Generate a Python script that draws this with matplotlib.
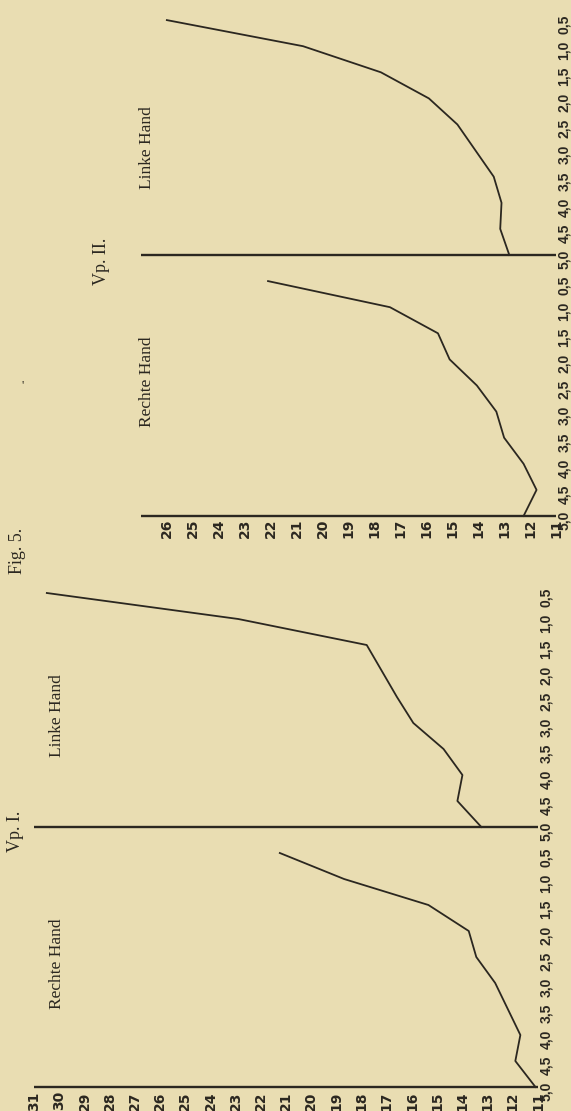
import matplotlib
matplotlib.use('Agg')
import matplotlib.pyplot as plt

# the printed figure is turned 90 degrees on the page:
# distance (5,0 .. 0,5) runs up the page, the value scale runs right to left
time_labels = ['5,0', '4,5', '4,0', '3,5', '3,0', '2,5', '2,0', '1,5', '1,0', '0,5']

vp1_rechte = [11.1, 11.9, 11.7, 12.2, 12.7, 13.45, 13.75, 15.35, 18.7, 21.25]
vp1_linke = [13.25, 14.2, 14.0, 14.75, 15.95, 16.6, 17.2, 17.8, 22.9, 30.5]
vp2_rechte = [12.25, 11.75, 12.25, 13.0, 13.3, 14.05, 15.1, 15.55, 17.4, 22.1]
vp2_linke = [12.8, 13.15, 13.1, 13.4, 14.1, 14.8, 15.9, 17.75, 20.75, 26.0]

vp1_scale = list(range(11, 32))
vp2_scale = list(range(11, 27))
vp1_axis = (11, 31)
vp2_axis = (11, 27)

W, H = 571, 1111
bg = '#e9ddb2'
ink = '#2b2720'
serif = ['Liberation Serif', 'DejaVu Serif']

plt.rcParams['font.family'] = ['DejaVu Sans']

fig = plt.figure(figsize=(W / 100, H / 100), dpi=100, facecolor=bg)


def panel(x11, xs, y0, ys, left, right, bottom, top):
    # pixel box on the page -> data limits (value 11 sits at x11, index 0 at y0)
    ax = fig.add_axes([left / W, 1 - bottom / H, (right - left) / W, (bottom - top) / H])
    ax.set_xlim(11 + (x11 - left) / xs, 11 + (x11 - right) / xs)
    ax.set_ylim((y0 - bottom) / ys, (y0 - top) / ys)
    ax.patch.set_visible(False)
    for s in ax.spines.values():
        s.set_visible(False)
    return ax


def draw(ax, rechte, linke, scale, axis_range, xpad, ypad):
    n = len(time_labels)
    pos = list(range(2 * n))
    ax.plot(rechte, pos[:n], color=ink, lw=1.3, clip_on=False)
    ax.plot(linke, pos[n:], color=ink, lw=1.3, clip_on=False)
    # value axis and the line where the left hand starts
    ax.hlines([0, n], axis_range[0], axis_range[1], color=ink, lw=1.7, clip_on=False)
    ax.set_xticks(scale, [str(v) for v in scale])
    ax.set_yticks(pos, time_labels * 2)
    ax.yaxis.tick_right()
    ax.tick_params(length=0, labelcolor=ink)
    ax.tick_params(axis='x', pad=xpad, labelrotation=90, labelsize=10)
    ax.tick_params(axis='y', pad=ypad, labelrotation=90, labelsize=10)
    for t in ax.get_xticklabels():
        t.set_fontweight('bold')
    for t in ax.get_yticklabels():
        t.set_fontweight('bold')
        t.set_family(['Liberation Sans', 'DejaVu Sans'])


ax1 = panel(550, 25.75, 1087, 26.0, 0, 538, 1087, 560)
draw(ax1, vp1_rechte, vp1_linke, vp1_scale, vp1_axis, 3, 0.6)

ax2 = panel(557, 26.0, 516, 26.1, 100, 556, 516, 0)
draw(ax2, vp2_rechte, vp2_linke, vp2_scale, vp2_axis, 2, 0.6)


def label(s, x, y, size, rot=90):
    fig.text(x / W, 1 - y / H, s, rotation=rot, ha='center', va='center',
             fontsize=size, family=serif, color=ink)


label('Fig. 5.', 17, 551, 13)
label('Vp. I.', 15, 831, 13)
label('Vp. II.', 102, 261, 13)
label('Rechte Hand', 57, 964, 12.5)
label('Linke Hand', 57, 716, 12.5)
label('Rechte Hand', 147, 382, 12.5)
label('Linke Hand', 147, 148, 12.5)
label("'", 23, 386, 9, rot=0)

fig.savefig('out.png', dpi=100, facecolor=bg)
